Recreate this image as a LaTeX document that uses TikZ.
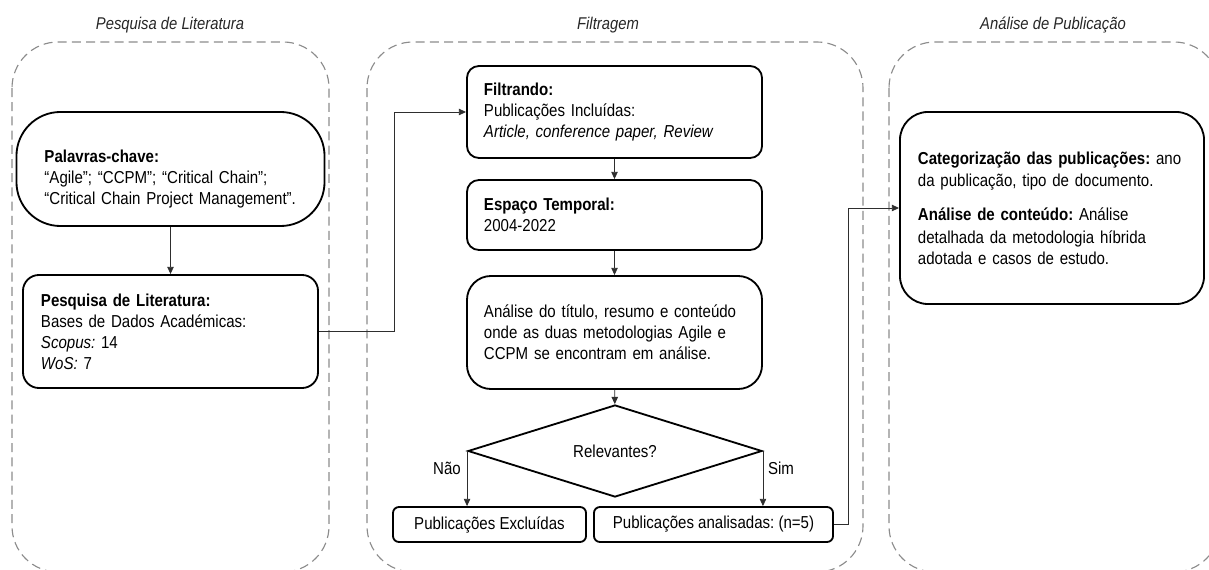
\documentclass[tikz,border=0pt]{standalone}
\usepackage{fontspec}
\setmainfont{Liberation Sans}[FakeStretch=0.87]
\usepackage{tikz}
\usetikzlibrary{arrows.meta, positioning, shapes.geometric}
\definecolor{framegray}{HTML}{8C8C8C}
\definecolor{titletext}{HTML}{262626}
\definecolor{linkline}{HTML}{2E2E2E}
\frenchspacing

\begin{document}
\begin{tikzpicture}[
    x=0.025cm, y=-0.025cm,
    >={Triangle[length=1.8mm, width=1.6mm]},
    grp/.style={draw=framegray, line width=0.8pt, dash pattern=on 2.25mm off 1.3mm, rounded corners=1.15cm},
    grptitle/.style={font=\fontsize{12.1pt}{14pt}\selectfont\itshape, text=titletext, inner sep=1pt},
    box/.style={draw, line width=1.3pt, align=left, inner ysep=0pt, font=\fontsize{12.3pt}{15pt}\selectfont},
    decide/.style={draw, diamond, line width=1.3pt, inner sep=0pt, font=\fontsize{12.3pt}{15pt}\selectfont},
    lbl/.style={font=\fontsize{12.3pt}{14pt}\selectfont, inner sep=1pt},
    link/.style={->, linkline, line width=0.6pt}]

  \useasboundingbox (0,0) rectangle (1209,570);
  \clip (0,0) rectangle (1209,570);

  % The three stages, each in a dashed frame.
  \draw[grp] (12,42) rectangle (329,572);
  \draw[grp] (367,42) rectangle (863,572);
  \draw[grp] (889,42) rectangle (1220,572);
  \node[grptitle] (tlit) at (170,25) {Pesquisa de Literatura};
  \node[grptitle] (tfilt) at (608,25) {Filtragem};
  \node[grptitle] (tpub) at (1053,25) {Análise de Publicação};

  % Literature search.
  \node[box, rounded corners=1.1cm, text width=6.3cm, inner xsep=0.7cm, minimum height=2.85cm] (kw) at (170.5,169)
    {\rule{0pt}{23pt}\textbf{Palavras-chave:}\\“Agile”; “CCPM”; “Critical Chain”;\\\mbox{“Critical Chain Project Management”.}};
  \node[box, rounded corners=0.4cm, text width=6.475cm, inner xsep=0.45cm, minimum height=2.825cm] (lit) at (170.5,331.5)
    {\textbf{Pesquisa de Literatura:}\\Bases de Dados Académicas:\\\textit{Scopus:} 14\\\textit{WoS:} 7};
  \draw[link] (kw) -- (lit);

  % Filtering steps.
  \node[box, rounded corners=0.3cm, text width=6.525cm, inner xsep=0.425cm, minimum height=2.3cm] (filt) at (614.5,112)
    {\textbf{Filtrando:}\\Publicações Incluídas:\\\textit{Article, conference paper, Review}};
  \node[box, rounded corners=0.3cm, text width=6.525cm, inner xsep=0.425cm, minimum height=1.75cm] (esp) at (614.5,215)
    {\textbf{Espaço Temporal:}\\2004-2022};
  \node[box, rounded corners=0.6cm, text width=6.525cm, inner xsep=0.425cm, minimum height=2.825cm] (cont) at (614.5,332.5)
    {Análise do título, resumo e conteúdo\\onde as duas metodologias Agile e\\CCPM se encontram em análise.};
  \node[decide, aspect=3.2, minimum width=7.35cm, minimum height=2.3cm] (rel) at (615,451) {Relevantes?};
  \node[box, align=center, rounded corners=0.15cm, inner xsep=0pt, minimum width=4.825cm, minimum height=0.875cm] (excl) at (489.5,524.5)
    {Publicações Excluídas};
  \node[box, align=center, rounded corners=0.15cm, inner xsep=0pt, minimum width=5.975cm, minimum height=0.875cm] (anl) at (713.5,524.5)
    {Publicações analisadas: (n=5)};
  \draw[link] (lit.east) -- ++(75,0) |- (filt.west);
  \draw[link] (filt) -- (esp);
  \draw[link] (esp) -- (cont);
  \draw[link] (cont) -- (rel);
  \draw[link] (rel.west) -- (rel.west |- excl.north);
  \draw[link] (rel.east) -- (rel.east |- anl.north);
  \node[lbl] (nao) at (447,468) {Não};
  \node[lbl] (sim) at (781,468) {Sim};

  % Analysis of the publications.
  \node[box, rounded corners=0.7cm, text width=6.7cm, inner xsep=0.45cm, minimum height=4.8cm] (cat) at (1052,208)
    {\fontsize{12.3pt}{16pt}\selectfont\mbox{\textbf{Categorização das publicações:} ano}\\da publicação, tipo de documento.\\[8pt]
     \textbf{Análise de conteúdo:} Análise\\detalhada da metodologia híbrida\\adotada e casos de estudo.};
  \draw[link] (anl.east) -- ++(14,0) |- (cat.west);
\end{tikzpicture}
\end{document}
